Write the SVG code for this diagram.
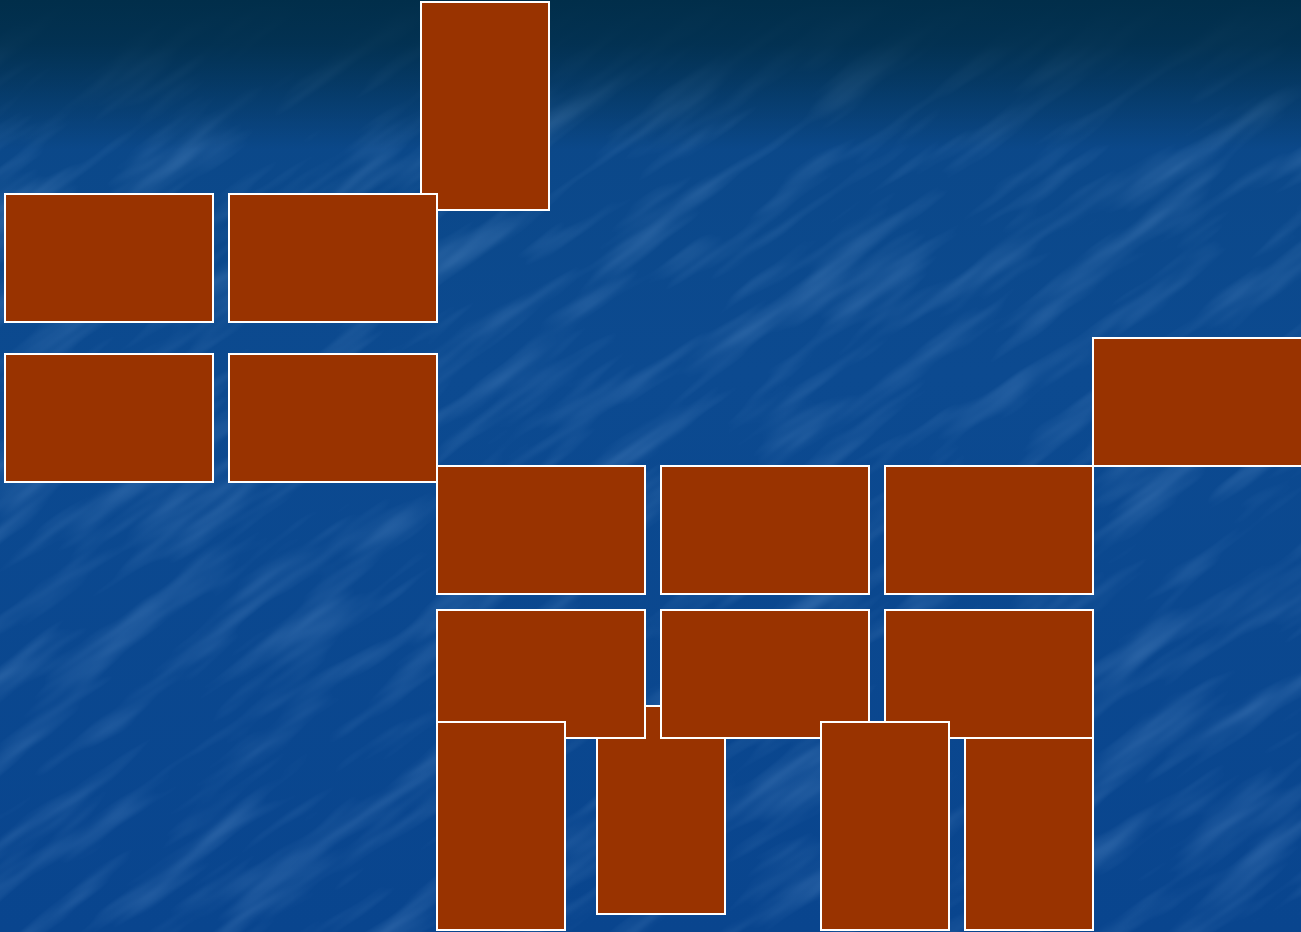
<svg xmlns="http://www.w3.org/2000/svg" width="1301" height="932" viewBox="0 0 1301 932">
<defs>
<linearGradient id="bg" x1="0" y1="0" x2="0" y2="1">
<stop offset="0" stop-color="#0b4480"/>
<stop offset="0.15" stop-color="#0b4889"/>
<stop offset="0.4" stop-color="#0c4a90"/>
<stop offset="1" stop-color="#09458e"/>
</linearGradient>
<linearGradient id="top" x1="0" y1="0" x2="0" y2="1">
<stop offset="0" stop-color="#012e4a" stop-opacity="1"/>
<stop offset="0.3" stop-color="#012e4a" stop-opacity="0.85"/>
<stop offset="1" stop-color="#012e4a" stop-opacity="0"/>
</linearGradient>
<filter id="tex" x="0" y="0" width="1" height="1" filterUnits="objectBoundingBox">
<feTurbulence type="fractalNoise" baseFrequency="0.006 0.035" numOctaves="3" seed="7"/>
<feColorMatrix type="matrix" values="0 0 0 0 0.35  0 0 0 0 0.6  0 0 0 0 0.95  0 0 0 1.6 -0.75"/>
</filter>
<style>
.b{fill:#993300;stroke:#ffffff;stroke-width:2}
</style>
</defs>
<rect width="1301" height="932" fill="url(#bg)"/>
<g opacity="0.3">
<g transform="rotate(-35 650 466)">
<rect x="-500" y="-500" width="2300" height="1932" filter="url(#tex)"/>
</g>
</g>
<rect width="1301" height="150" fill="url(#top)"/>
<g id="n-top"><rect class="b" x="421" y="2" width="128" height="208"/></g>
<g id="n-r1a"><rect class="b" x="5" y="194" width="208" height="128"/></g>
<g id="n-r1b"><rect class="b" x="229" y="194" width="208" height="128"/></g>
<g id="n-r2a"><rect class="b" x="5" y="354" width="208" height="128"/></g>
<g id="n-r2b"><rect class="b" x="229" y="354" width="208" height="128"/></g>
<g id="n-right"><rect class="b" x="1093" y="338" width="210" height="128"/></g>
<g id="n-r3a"><rect class="b" x="437" y="466" width="208" height="128"/></g>
<g id="n-r3b"><rect class="b" x="661" y="466" width="208" height="128"/></g>
<g id="n-r3c"><rect class="b" x="885" y="466" width="208" height="128"/></g>
<g id="n-t2"><rect class="b" x="597" y="706" width="128" height="208"/></g>
<g id="n-t4"><rect class="b" x="965" y="722" width="128" height="208"/></g>
<g id="n-r4a"><rect class="b" x="437" y="610" width="208" height="128"/></g>
<g id="n-r4b"><rect class="b" x="661" y="610" width="208" height="128"/></g>
<g id="n-r4c"><rect class="b" x="885" y="610" width="208" height="128"/></g>
<g id="n-t1"><rect class="b" x="437" y="722" width="128" height="208"/></g>
<g id="n-t3"><rect class="b" x="821" y="722" width="128" height="208"/></g>
</svg>
